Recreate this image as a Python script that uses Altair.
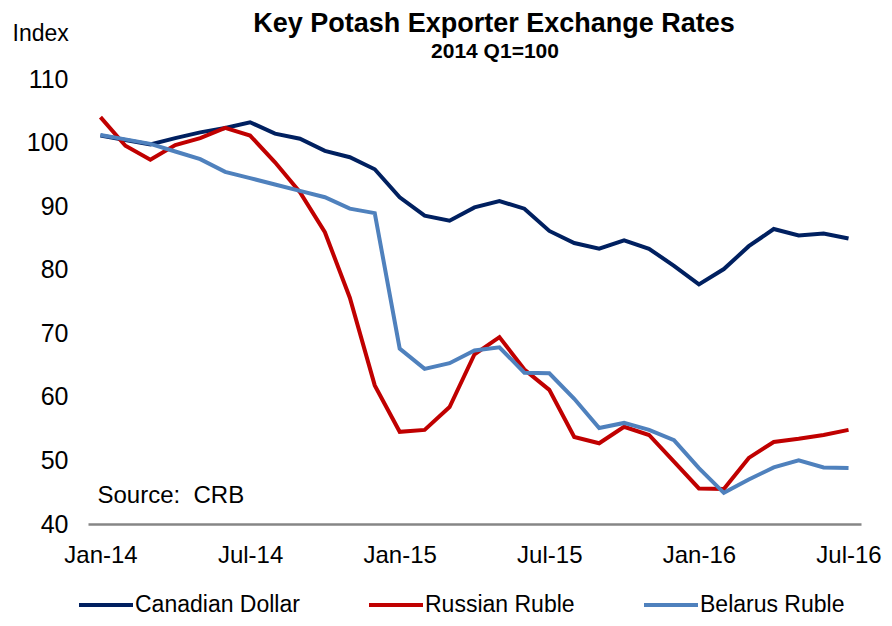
import altair as alt
import pandas as pd

months = [
    "Jan-14", "Feb-14", "Mar-14", "Apr-14", "May-14", "Jun-14", "Jul-14", "Aug-14", "Sep-14", "Oct-14", "Nov-14", "Dec-14",
    "Jan-15", "Feb-15", "Mar-15", "Apr-15", "May-15", "Jun-15", "Jul-15", "Aug-15", "Sep-15", "Oct-15", "Nov-15", "Dec-15",
    "Jan-16", "Feb-16", "Mar-16", "Apr-16", "May-16", "Jun-16", "Jul-16",
]
canadian = [101.1, 100.4, 99.7, 100.7, 101.6, 102.3, 103.2, 101.4, 100.6, 98.7, 97.7, 95.8,
            91.4, 88.5, 87.7, 89.8, 90.8, 89.6, 86.1, 84.2, 83.3, 84.6, 83.3, 80.6,
            77.7, 80.1, 83.7, 86.4, 85.4, 85.7, 84.9]
russian = [104.0, 99.5, 97.3, 99.6, 100.7, 102.3, 101.1, 96.9, 92.2, 85.9, 75.6, 61.8,
           54.5, 54.8, 58.4, 66.7, 69.4, 64.3, 61.1, 53.7, 52.7, 55.3, 54.0, 49.8,
           45.6, 45.5, 50.4, 52.9, 53.4, 54.0, 54.8]
belarus = [101.2, 100.5, 99.8, 98.6, 97.4, 95.4, 94.4, 93.4, 92.4, 91.4, 89.6, 88.9,
           67.6, 64.4, 65.3, 67.3, 67.8, 63.8, 63.7, 59.7, 55.1, 55.9, 54.8, 53.2,
           48.8, 44.9, 47.0, 48.9, 50.0, 48.9, 48.8]
series_names = ["Canadian Dollar", "Russian Ruble", "Belarus Ruble"]
series_colors = ["#002060", "#C00000", "#4F81BD"]
x_tick_labels = ["Jan-14", "Jul-14", "Jan-15", "Jul-15", "Jan-16", "Jul-16"]
y_ticks = [40, 50, 60, 70, 80, 90, 100, 110]
title_text = "Key Potash Exporter Exchange Rates"
subtitle_text = "2014 Q1=100"
source_text = "Source:\u00a0 CRB"

rows = []
for name, vals in zip(series_names, [canadian, russian, belarus]):
    for m, v in zip(months, vals):
        rows.append({"Month": m, "Value": v, "Series": name})
df = pd.DataFrame(rows)

FONT = "Liberation Sans"

x_enc = alt.X(
    "Month:O",
    scale=alt.Scale(domain=months, type="point", padding=0.5),
    axis=alt.Axis(
        values=x_tick_labels, labelAngle=0, ticks=False, domainColor="#868686",
        domainWidth=2.5, labelFontSize=24, labelPadding=19, labelColor="black",
        labelFont=FONT, title=None, grid=False,
    ),
)
y_enc = alt.Y(
    "Value:Q",
    scale=alt.Scale(domain=[40, 110], nice=False, zero=False),
    axis=alt.Axis(
        values=y_ticks, ticks=False, domain=False, grid=False, labelFontSize=25,
        labelPadding=20, labelColor="black", labelFont=FONT,
        title="Index", titleAngle=0, titleX=-76, titleY=-39, titleAlign="left",
        titleBaseline="alphabetic", titleFontSize=23, titleFontWeight="normal",
        titleFont=FONT, titleColor="black",
    ),
)

lines = alt.Chart(df).mark_line(strokeWidth=4).encode(
    x=x_enc,
    y=y_enc,
    color=alt.Color(
        "Series:N",
        scale=alt.Scale(domain=series_names, range=series_colors),
        legend=alt.Legend(
            title=None, orient="none", direction="horizontal", legendX=-11, legendY=497,
            symbolType="stroke", symbolStrokeWidth=4, symbolSize=2916,
            labelFontSize=23, labelFont=FONT, labelColor="black", labelOffset=0,
            labelLimit=0, columnPadding=61, padding=0,
        ),
    ),
    detail="Series:N",
)

source_df = pd.DataFrame([{"Month": "Jan-14", "Value": 43.3, "Label": source_text}])
source = alt.Chart(source_df).mark_text(
    align="left", baseline="alphabetic", fontSize=24, font=FONT, color="black", dx=-3
).encode(x=alt.X("Month:O"), y=alt.Y("Value:Q"), text="Label:N")

titles_df = pd.DataFrame([{"t": title_text, "s": subtitle_text}])
title_mark = alt.Chart(titles_df).mark_text(
    align="center", baseline="alphabetic", fontSize=27, fontWeight="bold", font=FONT, color="black"
).encode(x=alt.value(406), y=alt.value(-47), text="t:N")
subtitle_mark = alt.Chart(titles_df).mark_text(
    align="center", baseline="alphabetic", fontSize=21, fontWeight="bold", font=FONT, color="black"
).encode(x=alt.value(407), y=alt.value(-21), text="s:N")

chart = alt.layer(lines, source, title_mark, subtitle_mark).properties(
    width=773,
    height=445,
    autosize=alt.AutoSizeParams(type="none"),
    padding={"left": 80, "top": 71, "right": 22, "bottom": 94},
    background="white",
).configure_view(stroke=None)

chart.save("out.html", embed_options={"renderer": "svg", "actions": False})
